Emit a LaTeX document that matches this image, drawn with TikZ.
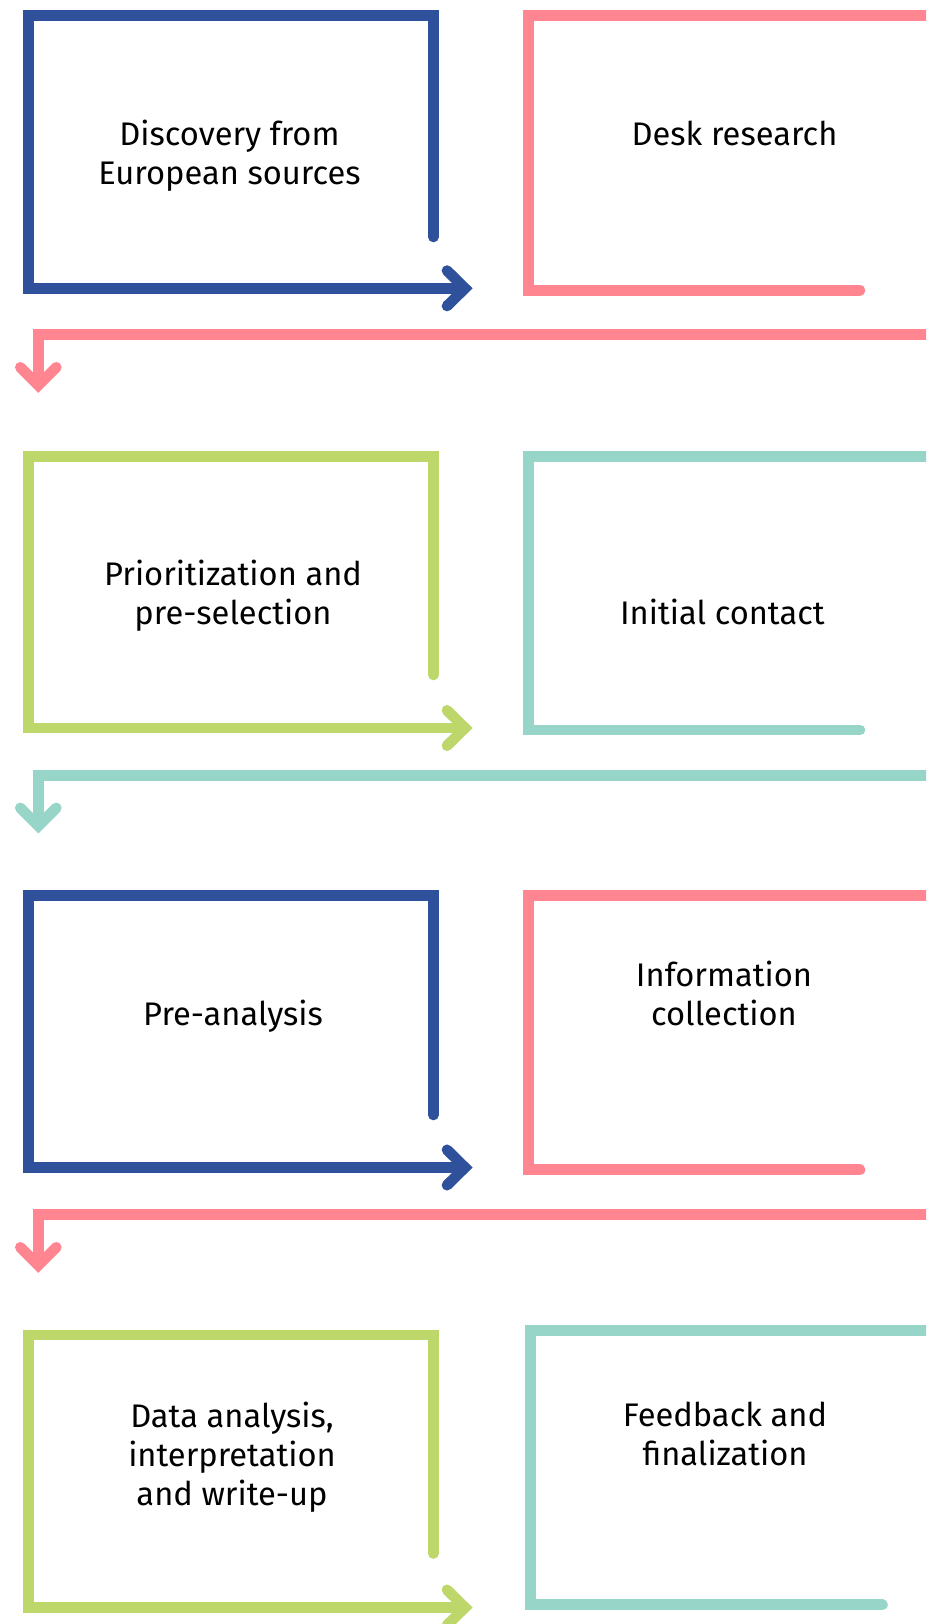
\documentclass[tikz,border=0pt]{standalone}
\usepackage{fontspec}
\setmainfont{Fira Sans}
\definecolor{stepblue}{HTML}{2F519C}
\definecolor{steppink}{HTML}{FF8590}
\definecolor{stepgreen}{HTML}{BDD76A}
\definecolor{stepteal}{HTML}{96D5C8}

\begin{document}
\begin{tikzpicture}[x=0.75pt,y=0.75pt,yscale=-1,xscale=1,
  frame/.style={line width=8pt, line cap=round, line join=miter},
  lbl/.style={font=\fontsize{24.5}{28.9}\selectfont, align=center, anchor=base, inner sep=0pt}]
\useasboundingbox (0,0) rectangle (926,1624);
\clip (0,0) rectangle (926,1624);

%Shape: Bracket [row 1, left]
\draw [stepblue, frame] (433.3,237) -- (433.3,15.5) -- (28.5,15.5) -- (28.5,288.3) -- (460,288.3) ;
\draw [stepblue, frame] (447,270.6) -- (465,288.3) -- (447,306) ;
%Shape: Bracket [row 1, right]
\draw [steppink, frame] (960,15.5) -- (528.8,15.5) -- (528.8,290.3) -- (860,290.3) ;
%Straight Lines [row 1 to row 2]
\draw [steppink, frame] (960,334.7) -- (38.3,334.7) -- (38.3,379.7) ;
\draw [steppink, frame] (20.3,367.3) -- (38.3,385.3) -- (56.3,367.3) ;

%Shape: Bracket [row 2, left]
\draw [stepgreen, frame] (433.3,675) -- (433.3,456.2) -- (28.5,456.2) -- (28.5,728) -- (460,728) ;
\draw [stepgreen, frame] (447,710.3) -- (465,728) -- (447,745.7) ;
%Shape: Bracket [row 2, right]
\draw [stepteal, frame] (960,456.2) -- (528.8,456.2) -- (528.8,730) -- (860,730) ;
%Straight Lines [row 2 to row 3]
\draw [stepteal, frame] (960,775.3) -- (38.3,775.3) -- (38.3,820.3) ;
\draw [stepteal, frame] (20.3,807.9) -- (38.3,825.9) -- (56.3,807.9) ;

%Shape: Bracket [row 3, left]
\draw [stepblue, frame] (433.3,1115) -- (433.3,895.3) -- (28.5,895.3) -- (28.5,1167.5) -- (460,1167.5) ;
\draw [stepblue, frame] (447,1149.8) -- (465,1167.5) -- (447,1185.2) ;
%Shape: Bracket [row 3, right]
\draw [steppink, frame] (960,895.3) -- (528.8,895.3) -- (528.8,1169.7) -- (860,1169.7) ;
%Straight Lines [row 3 to row 4]
\draw [steppink, frame] (960,1214.7) -- (38.3,1214.7) -- (38.3,1259.7) ;
\draw [steppink, frame] (20.3,1247.3) -- (38.3,1265.3) -- (56.3,1247.3) ;

%Shape: Bracket [row 4, left]
\draw [stepgreen, frame] (433.3,1553.5) -- (433.3,1335) -- (28.5,1335) -- (28.5,1607.5) -- (460,1607.5) ;
\draw [stepgreen, frame] (447,1589.8) -- (465,1607.5) -- (447,1625.2) ;
%Shape: Bracket [row 4, right]
\draw [stepteal, frame] (960,1330.7) -- (530.4,1330.7) -- (530.4,1604.7) -- (882.5,1604.7) ;

% Text Node
\node [lbl] (disc) at (229.5,184) {Discovery from\\European sources};
% Text Node
\node [lbl] (desk) at (734.5,145) {Desk research};
% Text Node
\node [lbl] (prio) at (233,624.5) {Prioritization and\\pre-selection};
% Text Node
\node [lbl] (init) at (722.4,624.5) {Initial contact};
% Text Node
\node [lbl] (pre) at (233,1025) {Pre-analysis};
% Text Node
\node [lbl] (info) at (724,1025) {Information\\collection};
% Text Node
\node [lbl] (data) at (232,1505) {Data analysis,\\interpretation\\and write-up};
% Text Node
\node [lbl] (feed) at (725,1465) {Feedback and\\finalization};

\end{tikzpicture}
\end{document}
